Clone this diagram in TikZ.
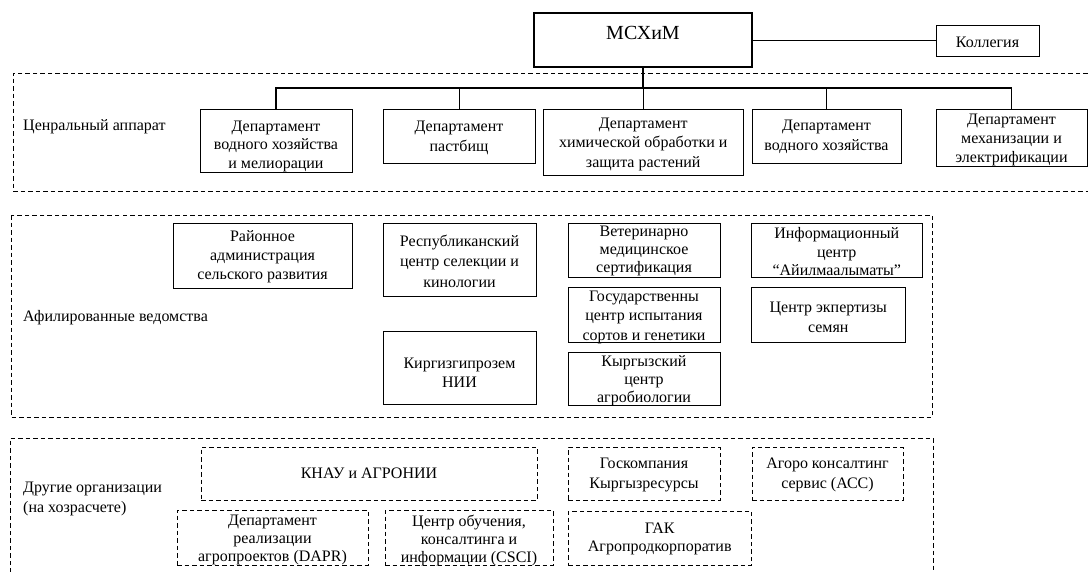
\documentclass[tikz,border=0pt]{standalone}
\usepackage{fontspec}
\setmainfont{Liberation Serif}
\tikzset{
  box/.style={draw, line width=0.9pt, inner sep=0pt, outer sep=0pt},
  dbox/.style={box, dash pattern=on 4.5pt off 3pt},
  tx/.style={align=center, inner sep=0pt, font=\fontsize{16}{19}\selectfont},
  lbl/.style={anchor=west, align=left, inner sep=0pt, font=\fontsize{16}{20}\selectfont},
  conn/.style={line width=1pt},
  grp/.style={line width=0.9pt, dash pattern=on 4.5pt off 3pt},
}
% style, name, x1, y1, x2, y2, text y, baselineskip, text
\newcommand\bx[9]{%
  \node[#1, minimum width={(#5)-(#3)}, minimum height={(#6)-(#4)}] (#2) at ({((#3)+(#5))/2},{((#4)+(#6))/2}) {};
  \node[tx, font=\fontsize{16}{#8}\selectfont] (#2t) at ({((#3)+(#5))/2},#7) {#9};}
\begin{document}
\begin{tikzpicture}[x=1pt,y=-1pt]
\useasboundingbox (0,0) rectangle (1088,571);
% group frames
\draw[grp] (1095,73) -| (13,191) -- (1095,191);
\draw[grp] (11,215) rectangle (932,417);
\draw[grp] (10,580) |- (933,438) -- (933,580);
% labels
\node[lbl] (l1) at (23,127) {Ценральный аппарат};
\node[lbl] (l2) at (23,318) {Афилированные ведомства};
\node[lbl] (l3) at (23,499) {Другие организации\\(на хозрасчете)};
% top
\node[box, line width=2.4pt, minimum width=218, minimum height=54] (m) at (643,40) {};
\node[tx, font=\fontsize{20}{24}\selectfont] (mt) at (643,33) {МСХиМ};
\bx{box}{k}{936}{25}{1039}{56}{42}{19}{Коллегия}
% central apparatus
\bx{box}{b1}{200}{109}{352}{172}{146}{18.5}{Департамент\\водного хозяйства\\и мелиорации}
\bx{box}{b2}{383}{109}{535}{163}{138}{20}{Департамент\\пастбищ}
\bx{box}{b3}{543}{109}{743.5}{175}{144}{19.5}{Департамент\\химической обработки и\\защита растений}
\bx{box}{b4}{752}{109}{901}{163}{137}{20}{Департамент\\водного хозяйства}
\bx{box}{b5}{936}{109}{1087}{166}{140}{19}{Департамент\\механизации и\\электрификации}
% affiliated
\bx{box}{r1}{173}{223}{352}{288}{257}{19}{Районное\\администрация\\сельского развития}
\bx{box}{r2}{383}{223}{536}{296}{261}{20.5}{Республиканский\\центр селекции и\\кинологии}
\bx{box}{r3}{383}{331}{536}{404}{372.5}{19}{Киргизгипрозем\\НИИ}
\bx{box}{r4}{568}{223}{720}{277}{251}{18}{Ветеринарно\\медицинское\\сертификация}
\bx{box}{r5}{568}{287}{720}{342}{317}{19.5}{Государственны\\центр испытания\\сортов и генетики}
\bx{box}{r6}{568}{352}{720}{405}{381}{18}{Кыргызский\\центр\\агробиологии}
\bx{box}{r7}{751.5}{223}{922}{277}{252}{18.5}{Информационный\\центр\\“Айилмаалыматы”}
\bx{box}{r8}{751.5}{287}{905}{342}{317}{20}{Центр экпертизы\\семян}
% other organisations
\bx{dbox}{o1}{201}{447}{537}{500}{473.5}{19}{КНАУ и АГРОНИИ}
\bx{dbox}{o2}{177}{510}{368}{565}{540}{18}{Департамент\\реализации\\агропроектов (DAPR)}
\bx{dbox}{o3}{385}{510}{553}{565}{540}{18}{Центр обучения,\\консалтинга и\\информации (CSCI)}
\bx{dbox}{o4}{568}{447}{720}{500}{475}{20}{Госкомпания\\Кыргызресурсы}
\bx{dbox}{o5}{752}{447}{903}{500}{475}{20}{Агоро консалтинг\\сервис (АСС)}
\bx{dbox}{o6}{568}{511}{751.5}{565}{539}{18}{ГАК\\Агропродкорпоратив}
% connectors
\coordinate (bus) at (0,88);
\draw[conn, line width=1.8pt] (m.south) -- (m.south |- bus);
\draw[conn, line width=1.2pt] (b1.north) -- (b1.north |- bus) -- (b5.north |- bus) -- (b5.north);
\foreach \b in {b2,b3,b4} \draw[conn] (\b.north) -- (\b.north |- bus);
\draw[conn] (m.east |- k.west) -- (k.west);
\end{tikzpicture}
\end{document}
